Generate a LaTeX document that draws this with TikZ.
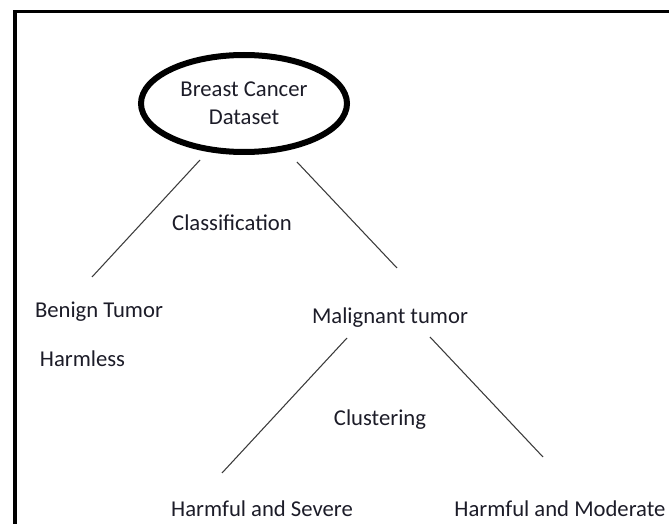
\documentclass[tikz,border=0pt]{standalone}
\usepackage{fontspec}
\setmainfont{Carlito}
\usetikzlibrary{shapes.geometric}
\definecolor{ink}{HTML}{1C1C28}
\definecolor{wire}{HTML}{3A3A3A}
\tikzset{
  lbl/.style={font=\fontsize{17}{21}\selectfont, text=ink, inner sep=0pt, align=center},
  root/.style={ellipse, draw=black, line width=4.5pt, lbl,
    minimum width=154.5pt, minimum height=72.75pt},
  branch/.style={draw=wire, line width=0.8pt},
  frame/.style={draw=black, line width=2.4pt},
}

\begin{document}
\begin{tikzpicture}[x=0.75pt,y=-0.75pt]
  \useasboundingbox (0,0) rectangle (669,524);
  \clip (0,0) rectangle (669,524);
  \draw[frame] (15,11.5) rectangle (700,560);

  % nodes
  \node[root] (data) at (244,103.5) {Breast Cancer\\Dataset};
  \node[lbl] (classif) at (232,223) {Classification};
  \node[lbl] (benign) at (99,312) {Benign Tumor};
  \node[lbl] (harmless) at (82.5,359) {Harmless};
  \node[lbl] (malig) at (390,318) {Malignant tumor};
  \node[lbl] (clust) at (380,420) {Clustering};
  \node[lbl] (severe) at (262,509) {Harmful and Severe};
  \node[lbl] (moder) at (560,509) {Harmful and Moderate};

  % free line ends
  \coordinate (dl) at (200,160);  \coordinate (bl) at (92,277);
  \coordinate (dr) at (297,162);  \coordinate (mr) at (397,268);
  \coordinate (ml) at (347,338);  \coordinate (sl) at (222,473);
  \coordinate (mm) at (430,337);  \coordinate (hr) at (543,457);

  \draw[branch] (dl) -- (bl);
  \draw[branch] (dr) -- (mr);
  \draw[branch] (ml) -- (sl);
  \draw[branch] (mm) -- (hr);
\end{tikzpicture}
\end{document}
